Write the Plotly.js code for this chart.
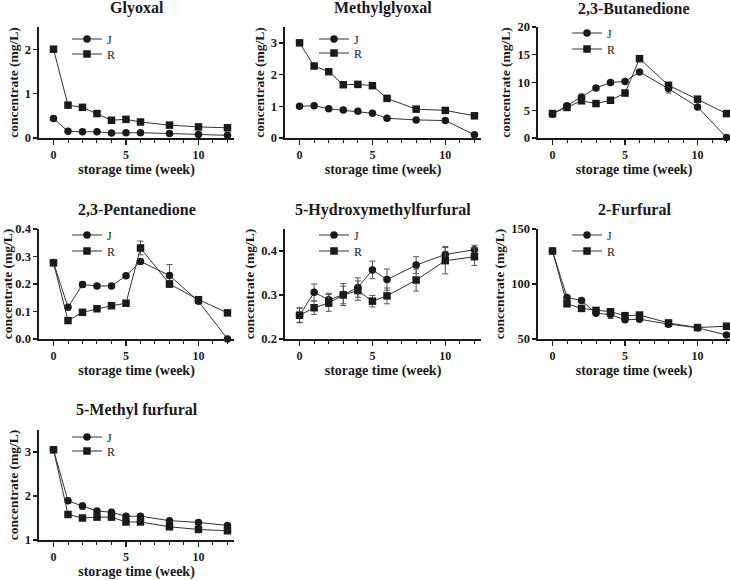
<!DOCTYPE html>
<html><head><meta charset="utf-8">
<script src="https://cdn.plot.ly/plotly-3.0.1.min.js"></script>
<style>html,body{margin:0;padding:0;background:#fff}</style>
</head><body><div id="chart" style="width:730px;height:580px"></div>
<script>
// ---- data ----
const weeks = [0, 1, 2, 3, 4, 5, 6, 8, 10, 12];
const seriesNames = ["J", "R"];
const panelTitles = ["Glyoxal", "Methylglyoxal", "2,3-Butanedione", "2,3-Pentanedione",
  "5-Hydroxymethylfurfural", "2-Furfural", "5-Methyl furfural"];
const xTitle = "storage time (week)";
const yTitle = "concentrate (mg/L)";
const xTickVals = [0, 5, 10];

const glyoxalJ = [0.44, 0.15, 0.14, 0.14, 0.11, 0.12, 0.12, 0.10, 0.08, 0.06];
const glyoxalR = [2.00, 0.74, 0.69, 0.55, 0.40, 0.42, 0.36, 0.29, 0.25, 0.23];

const methylglyoxalJ = [1.00, 1.02, 0.92, 0.88, 0.84, 0.78, 0.62, 0.57, 0.55, 0.10];
const methylglyoxalR = [3.00, 2.27, 2.09, 1.68, 1.69, 1.65, 1.25, 0.91, 0.87, 0.70];

const butanedioneJ = [4.3, 5.8, 7.4, 9.0, 10.0, 10.2, 11.9, 8.9, 5.6, 0.1];
const butanedioneR = [4.4, 5.5, 6.7, 6.2, 6.8, 8.1, 14.3, 9.5, 7.0, 4.4];
const butanedioneJErr = [0.1, 0.2, 0.2, 0.2, 0.2, 0.2, 0.2, 0.8, 0.2, 0.1];
const butanedioneRErr = [0.1, 0.2, 0.2, 0.2, 0.2, 0.2, 0.3, 0.3, 0.2, 0.1];

const pentanedioneJ = [0.278, 0.115, 0.198, 0.193, 0.193, 0.230, 0.282, 0.231, 0.137, 0.000];
const pentanedioneR = [0.277, 0.067, 0.097, 0.110, 0.121, 0.130, 0.331, 0.200, 0.143, 0.095];
const pentanedioneJErr = [0.008, 0.004, 0.010, 0.003, 0.003, 0.003, 0.008, 0.040, 0.005, 0.000];
const pentanedioneRErr = [0.008, 0.004, 0.004, 0.003, 0.003, 0.003, 0.025, 0.012, 0.008, 0.003];

const hmfJ = [0.254, 0.306, 0.289, 0.301, 0.317, 0.357, 0.335, 0.368, 0.392, 0.403];
const hmfR = [0.254, 0.271, 0.282, 0.300, 0.310, 0.286, 0.298, 0.334, 0.378, 0.387];
const hmfJErr = [0.017, 0.019, 0.015, 0.025, 0.022, 0.020, 0.024, 0.019, 0.018, 0.010];
const hmfRErr = [0.016, 0.015, 0.019, 0.020, 0.022, 0.013, 0.018, 0.025, 0.030, 0.020];

const furfuralJ = [130, 87.7, 85.0, 73.4, 72.2, 67.4, 68.0, 63.5, 60.2, 53.6];
const furfuralR = [130, 82.0, 77.8, 76.0, 74.8, 71.2, 71.8, 64.6, 60.4, 61.6];
const furfuralJErr = [1.5, 1.0, 1.0, 1.5, 3.5, 1.0, 1.0, 1.0, 1.0, 0.5];
const furfuralRErr = [1.5, 1.0, 1.0, 1.0, 1.0, 1.0, 1.0, 1.0, 1.0, 0.5];

const methylFurfuralJ = [3.05, 1.89, 1.77, 1.66, 1.63, 1.54, 1.54, 1.44, 1.40, 1.33];
const methylFurfuralR = [3.05, 1.58, 1.50, 1.52, 1.52, 1.41, 1.41, 1.30, 1.24, 1.21];
const methylFurfuralJErr = [0.02, 0.06, 0.07, 0.03, 0.03, 0.02, 0.02, 0.02, 0.02, 0.02];
const methylFurfuralRErr = [0.02, 0.02, 0.02, 0.02, 0.02, 0.02, 0.02, 0.02, 0.02, 0.02];

const yRanges = [[0, 2.5], [0, 3.5], [0, 20], [0, 0.4], [0.2, 0.45], [50, 150], [1, 3.5]];
const yTickVals = [[0, 1, 2], [0, 1, 2, 3], [0, 5, 10, 15, 20], [0, 0.1, 0.2, 0.3, 0.4],
  [0.2, 0.3, 0.4], [50, 100, 150], [1, 2, 3]];
const yTickFormats = ["", "", "", ".1f", ".1f", "", ""];

const panelJ = [glyoxalJ, methylglyoxalJ, butanedioneJ, pentanedioneJ, hmfJ, furfuralJ, methylFurfuralJ];
const panelR = [glyoxalR, methylglyoxalR, butanedioneR, pentanedioneR, hmfR, furfuralR, methylFurfuralR];
const panelJErr = [null, null, butanedioneJErr, pentanedioneJErr, hmfJErr, furfuralJErr, methylFurfuralJErr];
const panelRErr = [null, null, butanedioneRErr, pentanedioneRErr, hmfRErr, furfuralRErr, methylFurfuralRErr];

// ---- layout geometry (pixels) ----
const W = 730, H = 580;
const colX = [[39, 234], [285, 481], [538, 730]];
const colXRange = [[-1, 12.45], [-1, 12.45], [-1, 12.24]];
const rowY = [[27, 138], [229, 339], [430, 540]];
const titleY = [8, 210, 410];
// legend marker centre positions per panel: [x, yJ, yR]
const legendPos = [[88, 39, 54], [335, 39, 53], [588, 33, 49], [88, 235, 251],
  [335, 235, 251], [588, 235, 251], [88, 437, 451]];

const serif = "Liberation Serif";
const ink = "#1a1a1a";
const boldFont = (s) => ({family: serif, size: s, color: ink, weight: "bold"});

const data = [];
const layout = {
  width: W, height: H,
  margin: {l: 0, r: 0, t: 0, b: 0},
  paper_bgcolor: "#ffffff", plot_bgcolor: "#ffffff",
  showlegend: true,
  annotations: [],
};

for (let p = 0; p < 7; p++) {
  const col = p % 3, row = Math.floor(p / 3);
  const n = p + 1;
  const xa = n === 1 ? "x" : "x" + n, ya = n === 1 ? "y" : "y" + n;
  const xk = n === 1 ? "xaxis" : "xaxis" + n, yk = n === 1 ? "yaxis" : "yaxis" + n;
  const [x0, x1] = colX[col], [y0, y1] = rowY[row];

  layout[xk] = {
    domain: [x0 / W, x1 / W], range: colXRange[col], anchor: ya,
    tickvals: xTickVals, ticks: "outside", ticklen: 5, tickwidth: 1.4, tickcolor: ink,
    minor: {ticks: "outside", tickvals: [1, 2, 3, 4, 6, 7, 8, 9, 11, 12], ticklen: 3, tickwidth: 1, tickcolor: ink, showgrid: false},
    showline: true, linecolor: ink, linewidth: 1.6, showgrid: false, zeroline: false,
    tickfont: boldFont(12),
    title: {text: xTitle, font: boldFont(14), standoff: 3},
  };
  layout[yk] = {
    domain: [1 - y1 / H, 1 - y0 / H], range: yRanges[p], anchor: xa,
    tickvals: yTickVals[p], tickformat: yTickFormats[p],
    ticks: "outside", ticklen: 4, tickwidth: 1.4, tickcolor: ink,
    showline: true, linecolor: ink, linewidth: 1.6, showgrid: false, zeroline: false,
    tickfont: boldFont(12.5),
    title: {text: yTitle, font: boldFont(13.5), standoff: 3},
  };
  layout.annotations.push({
    text: panelTitles[p], xref: "paper", yref: "paper",
    x: (x0 + x1) / 2 / W, y: 1 - titleY[row] / H, xanchor: "center", yanchor: "middle",
    showarrow: false, font: boldFont(16),
  });

  const series = [[panelJ[p], panelJErr[p], "circle"], [panelR[p], panelRErr[p], "square"]];
  series.forEach(([vals, err, sym], s) => {
    const legId = "legend" + (p * 2 + s + 1 === 1 ? "" : (p * 2 + s + 1));
    const tr = {
      type: "scatter", mode: "lines+markers", x: weeks, y: vals,
      xaxis: xa, yaxis: ya, name: seriesNames[s], legend: legId,
      line: {color: "#333", width: 1},
      marker: {symbol: sym, size: 7.5, color: ink},
      cliponaxis: false,
    };
    if (err) tr.error_y = {type: "data", array: err, visible: true, color: "#555", thickness: 1, width: 3};
    data.push(tr);
    const lp = legendPos[p];
    layout[legId] = {
      x: (lp[0] - 21) / W, y: 1 - lp[s + 1] / H, xanchor: "left", yanchor: "middle",
      bgcolor: "rgba(0,0,0,0)", borderwidth: 0,
      font: {family: serif, size: 12, color: ink},
      itemclick: false, itemdoubleclick: false,
    };
  });
}

Plotly.newPlot("chart", data, layout, {displayModeBar: false, staticPlot: true});
</script>
</body></html>
